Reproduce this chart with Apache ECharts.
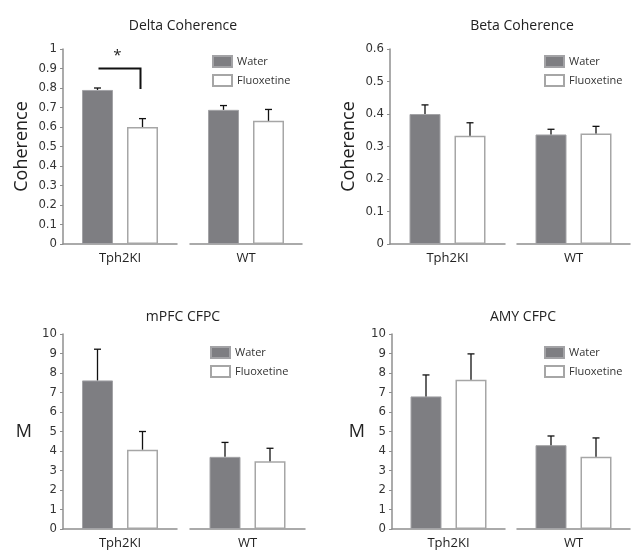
<!DOCTYPE html>
<html>
<head>
<meta charset="utf-8">
<script src="https://cdn.jsdelivr.net/npm/echarts@6/dist/echarts.min.js"></script>
<style>
  html, body { margin: 0; padding: 0; background: #fff; }
  #main { width: 637px; height: 553px; }
</style>
</head>
<body>
<div id="main"></div>
<script>
const categories = ["Tph2KI", "WT"];
const seriesNames = ["Water", "Fluoxetine"];

// means and SEM, [Tph2KI, WT]
const deltaWater = [0.79, 0.688];
const deltaWaterSem = [0.01, 0.022];
const deltaFluox = [0.60, 0.632];
const deltaFluoxSem = [0.043, 0.058];

const betaWater = [0.40, 0.337];
const betaWaterSem = [0.028, 0.016];
const betaFluox = [0.333, 0.34];
const betaFluoxSem = [0.04, 0.022];

const mpfcWater = [7.62, 3.7];
const mpfcWaterSem = [1.6, 0.74];
const mpfcFluox = [4.07, 3.48];
const mpfcFluoxSem = [0.93, 0.66];

const amyWater = [6.8, 4.3];
const amyWaterSem = [1.1, 0.47];
const amyFluox = [7.66, 3.7];
const amyFluoxSem = [1.32, 0.97];

const deltaTicks = [0, 1, 0.1];
const betaTicks = [0, 0.6, 0.1];
const mTicks = [0, 10, 1];

const sigLevels = [0.9, 0.795]; // bracket over Tph2KI delta
const sigStarLevel = 0.965;

const labelFont = "'Liberation Sans Narrow', 'DejaVu Sans Condensed', sans-serif";
const textFont = "'Open Sans', 'Noto Sans', sans-serif";

const panels = [
  { title: "Delta Coherence", yName: "Coherence", rot: 90, ticks: deltaTicks,
    water: deltaWater, waterSem: deltaWaterSem, fluox: deltaFluox, fluoxSem: deltaFluoxSem,
    left: 63, top: 49, w1: 114, gapX: 13, w2: 112, legend: [207, 50], titleX: 178, titleY: 14, nameGap: 32 },
  { title: "Beta Coherence", yName: "Coherence", rot: 90, ticks: betaTicks,
    water: betaWater, waterSem: betaWaterSem, fluox: betaFluox, fluoxSem: betaFluoxSem,
    left: 390, top: 49, w1: 115, gapX: 12, w2: 113, legend: [539, 50], titleX: 517, titleY: 14, nameGap: 32 },
  { title: "mPFC CFPC", yName: "M", rot: 0, ticks: mTicks,
    water: mpfcWater, waterSem: mpfcWaterSem, fluox: mpfcFluox, fluoxSem: mpfcFluoxSem,
    left: 63, top: 334, w1: 114, gapX: 13, w2: 115, legend: [205, 341], titleX: 178, titleY: 305, nameGap: 31 },
  { title: "AMY CFPC", yName: "M", rot: 0, ticks: mTicks,
    water: amyWater, waterSem: amyWaterSem, fluox: amyFluox, fluoxSem: amyFluoxSem,
    left: 392, top: 334, w1: 113, gapX: 12, w2: 113, legend: [539, 341], titleX: 518, titleY: 305, nameGap: 27 }
];

const BAR_W = 31;
const BAR_GAP = 14;
const plotH = 195;

const waterStyle = { color: "#7e7e82", borderColor: "#a3a3a6", borderWidth: 1 };
const fluoxStyle = { color: "#ffffff", borderColor: "#a6a6a6", borderWidth: 1.5 };

const grid = [], xAxis = [], yAxis = [], series = [], title = [], legend = [];

function errorBarItem(params, api) {
  const mean = api.value(1);
  const sem = api.value(2);
  const side = api.value(3);
  const base = api.coord([0, mean]);
  const top = api.coord([0, mean + sem]);
  const x = base[0] + side * (BAR_W + BAR_GAP) / 2;
  return {
    type: "group",
    children: [
      { type: "line", shape: { x1: x, y1: base[1], x2: x, y2: top[1] },
        style: { stroke: "#111", lineWidth: 1.3 } },
      { type: "line", shape: { x1: x - 3.5, y1: top[1], x2: x + 3.5, y2: top[1] },
        style: { stroke: "#111", lineWidth: 1.3 } }
    ]
  };
}

panels.forEach((p, pi) => {
  title.push({
    text: p.title, left: p.titleX, top: p.titleY, textAlign: "center",
    textStyle: { fontFamily: textFont, fontSize: 14, fontWeight: "normal", color: "#222" }
  });
  legend.push({
    data: seriesNames, orient: "vertical", left: p.legend[0], top: p.legend[1],
    icon: "rect", itemWidth: 19, itemHeight: 11, itemGap: 6, selectedMode: false,
    textStyle: { fontFamily: textFont, fontSize: 11, color: "#333" }
  });
  [0, 1].forEach(k => {
    const gi = pi * 2 + k;
    const gLeft = k === 0 ? p.left : p.left + p.w1 + p.gapX;
    grid.push({ left: gLeft, top: p.top, width: k === 0 ? p.w1 : p.w2, height: plotH });
    xAxis.push({
      type: "category", gridIndex: gi, data: [categories[k]],
      axisLine: { lineStyle: { color: "#8f8f8f", width: 1.5 } },
      axisTick: { show: false },
      axisLabel: { margin: 8, fontFamily: textFont, fontSize: 13, color: "#222" }
    });
    yAxis.push({
      type: "value", gridIndex: gi, min: p.ticks[0], max: p.ticks[1], interval: p.ticks[2],
      show: k === 0,
      name: p.yName, nameLocation: "middle", nameGap: p.nameGap, nameRotate: p.rot,
      nameTextStyle: { fontFamily: textFont, fontSize: 18, color: "#222" },
      axisLine: { show: true, lineStyle: { color: "#8f8f8f", width: 1.5 } },
      axisTick: { show: true, length: 3, lineStyle: { color: "#8f8f8f" } },
      axisLabel: { margin: 6, fontFamily: labelFont, fontSize: 13, color: "#333" },
      splitLine: { show: false }
    });
    series.push({
      name: "Water", type: "bar", xAxisIndex: gi, yAxisIndex: gi,
      data: [p.water[k]], barWidth: BAR_W, barGap: (BAR_GAP / BAR_W * 100) + "%",
      itemStyle: waterStyle, silent: true
    });
    series.push({
      name: "Fluoxetine", type: "bar", xAxisIndex: gi, yAxisIndex: gi,
      data: [p.fluox[k]], barWidth: BAR_W, barGap: (BAR_GAP / BAR_W * 100) + "%",
      itemStyle: fluoxStyle, silent: true
    });
    series.push({
      type: "custom", xAxisIndex: gi, yAxisIndex: gi, silent: true, z: 5,
      data: [[0, p.water[k], p.waterSem[k], -1], [0, p.fluox[k], p.fluoxSem[k], 1]],
      renderItem: errorBarItem
    });
  });
});

// significance bracket, Delta Coherence, Tph2KI
series.push({
  type: "custom", xAxisIndex: 0, yAxisIndex: 0, silent: true, z: 6,
  data: [[0, sigLevels[0], sigLevels[1], sigStarLevel]],
  renderItem: function (params, api) {
    const hi = api.coord([0, api.value(1)]);
    const lo = api.coord([0, api.value(2)]);
    const star = api.coord([0, api.value(3)]);
    const half = (BAR_W + BAR_GAP) / 2;
    const xL = hi[0] - half + 1;
    const xR = hi[0] + half - 2;
    return {
      type: "group",
      children: [
        { type: "polyline", shape: { points: [[xL, hi[1]], [xR, hi[1]], [xR, lo[1]]] },
          style: { stroke: "#111", lineWidth: 2, fill: null } },
        { type: "text", x: (xL + xR) / 2 - 2, y: star[1],
          style: { text: "*", font: "15px " + textFont, fill: "#222", align: "center", verticalAlign: "middle" } }
      ]
    };
  }
});

const chart = echarts.init(document.getElementById("main"), null, { renderer: "canvas" });
chart.setOption({
  backgroundColor: "#fff",
  animation: false,
  title, legend, grid, xAxis, yAxis, series
});
</script>
</body>
</html>
